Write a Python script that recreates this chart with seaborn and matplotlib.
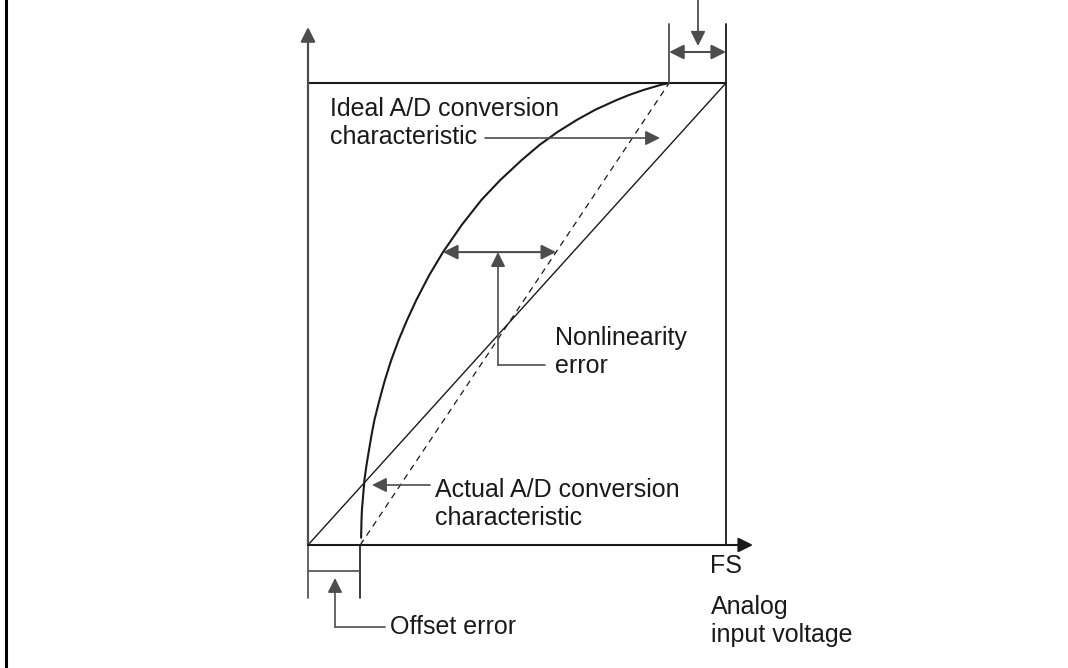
import matplotlib
matplotlib.use("Agg")
import matplotlib.pyplot as plt
import seaborn as sns

# ---- data (normalised: full scale = 1 on x, full code = 1 on y) ----
offset_error = 0.125          # actual curve leaves the x-axis here
full_scale = 1.0              # FS
ideal_end_x = 0.864           # where the dashed line / curve reach full code
curve_x = [0.127, 0.127, 0.128, 0.129, 0.132, 0.135, 0.140, 0.146, 0.152,
           0.159, 0.171, 0.184, 0.199, 0.217, 0.237, 0.259, 0.290, 0.323,
           0.368, 0.415, 0.460, 0.511, 0.554, 0.597, 0.643, 0.687, 0.738,
           0.768, 0.803, 0.818, 0.844, 0.864]
curve_y = [0.000, 0.032, 0.054, 0.076, 0.108, 0.141, 0.173, 0.206, 0.238,
           0.271, 0.314, 0.357, 0.400, 0.444, 0.487, 0.530, 0.584, 0.634,
           0.693, 0.747, 0.790, 0.833, 0.866, 0.894, 0.920, 0.942, 0.963,
           0.974, 0.985, 0.989, 0.996, 1.000]
diag_x = [0.0, full_scale]
diag_y = [0.0, 1.0]
ideal_x = [offset_error, ideal_end_x]
ideal_y = [0.0, 1.0]
nonlin_level = 0.634          # height of the nonlinearity arrow

label_ideal = "Ideal A/D conversion\ncharacteristic"
label_actual = "Actual A/D conversion\ncharacteristic"
label_nonlin = "Nonlinearity\nerror"
label_offset = "Offset error"
label_fs = "FS"
label_xaxis = "Analog\ninput voltage"

# ---- figure ----
sns.set_theme(style="white")
plt.rcParams["font.family"] = ["Liberation Sans", "DejaVu Sans"]
W, H = 1068, 668
fig = plt.figure(figsize=(W / 100, H / 100), dpi=100)
ax = fig.add_axes([0, 0, 1, 1])
X0, XS = 308, 418
Y0, YS = 545, 462
ax.set_xlim(-X0 / XS, (W - X0) / XS)
ax.set_ylim(-(H - Y0) / YS, Y0 / YS)
ax.axis("off")


def X(p):
    return (p - X0) / XS


def Y(p):
    return (Y0 - p) / YS


dark = "#1a1a1a"
grey = "#4d4d4d"
FS_ = 18
LS = 1.17

# curves
sns.lineplot(x=curve_x, y=curve_y, ax=ax, color=dark, lw=1.5, sort=False)
sns.lineplot(x=diag_x, y=diag_y, ax=ax, color=dark, lw=1.0)
sns.lineplot(x=ideal_x, y=ideal_y, ax=ax, color=dark, lw=0.9,
             linestyle=(0, (5, 4)))

# frame: top line & right line
ax.plot([0, full_scale], [1, 1], color=dark, lw=1.5)
ax.plot([full_scale, full_scale], [0, Y(24)], color=dark, lw=1.3)
ax.plot([ideal_end_x, ideal_end_x], [1, Y(24)], color=grey, lw=1.3)

arrow_kw = dict(arrowstyle="-|>", color=dark, lw=1.2, mutation_scale=22,
                shrinkA=0, shrinkB=0)
dbl_kw = dict(arrowstyle="<|-|>", color=grey, lw=1.5, mutation_scale=22,
              shrinkA=0, shrinkB=0)

# axes with arrows
ax.annotate("", xy=(0, Y(27)), xytext=(0, 0), arrowprops=dict(arrow_kw, color=grey, lw=1.6))
ax.annotate("", xy=(X(753), 0), xytext=(0, 0), arrowprops=dict(arrow_kw, lw=1.5))

# gain error double arrow + down arrow
ax.annotate("", xy=(full_scale, Y(52)), xytext=(ideal_end_x, Y(52)), arrowprops=dbl_kw)
ax.annotate("", xy=(X(698), Y(46)), xytext=(X(698), Y(-2)),
            arrowprops=dict(arrow_kw, color=grey, lw=1.3))

# offset bracket
ax.plot([0, 0], [0, Y(598)], color=grey, lw=1.2)
ax.plot([offset_error, offset_error], [0, Y(598)], color=dark, lw=1.2)
ax.plot([0, offset_error], [Y(571), Y(571)], color=grey, lw=1.2)
ax.annotate("", xy=(X(335), Y(578)), xytext=(X(335), Y(627)),
            arrowprops=dict(arrow_kw, color=grey))
ax.plot([X(335), X(385)], [Y(627), Y(627)], color=grey, lw=1.2)
ax.text(X(390), Y(627), label_offset, fontsize=FS_, va="center", ha="left", color=dark)

# nonlinearity
x_curve_nl = curve_x[curve_y.index(nonlin_level)]
x_ideal_nl = offset_error + nonlin_level * (ideal_end_x - offset_error)
ax.annotate("", xy=(x_ideal_nl, nonlin_level), xytext=(x_curve_nl, nonlin_level),
            arrowprops=dbl_kw)
ax.annotate("", xy=(X(498), nonlin_level), xytext=(X(498), Y(365)),
            arrowprops=dict(arrow_kw, color=grey))
ax.plot([X(498), X(545)], [Y(365), Y(365)], color=grey, lw=1.2)
ax.text(X(555), Y(352), label_nonlin, fontsize=FS_, va="center", ha="left",
        color=dark, linespacing=LS)

# ideal label
ax.text(X(330), Y(123), label_ideal, fontsize=FS_, va="center", ha="left",
        color=dark, linespacing=LS)
ax.annotate("", xy=(X(660), Y(138)), xytext=(X(485), Y(138)),
            arrowprops=dict(arrow_kw, color=grey))

# actual label
ax.text(X(435), Y(504), label_actual, fontsize=FS_, va="center", ha="left",
        color=dark, linespacing=LS)
ax.annotate("", xy=(X(372), Y(485)), xytext=(X(430), Y(485)),
            arrowprops=dict(arrow_kw, color=grey))

# FS and axis label
ax.text(full_scale, Y(566), label_fs, fontsize=FS_, va="center", ha="center", color=dark)
ax.text(X(711), Y(621), label_xaxis, fontsize=FS_, va="center", ha="left",
        color=dark, linespacing=LS)

# left border of the page
ax.plot([X(6), X(6)], [Y(0), Y(H)], color="black", lw=2.2)

fig.savefig("out.png", dpi=100)
